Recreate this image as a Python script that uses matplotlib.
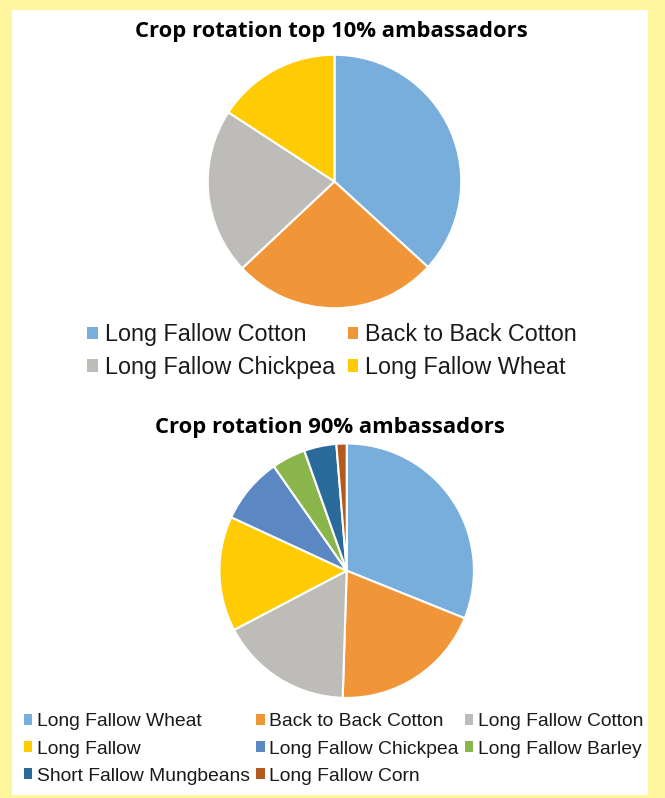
import matplotlib.pyplot as plt
from matplotlib.patches import Patch, Rectangle

# top 10% ambassadors
top_labels = ['Long Fallow Cotton', 'Back to Back Cotton', 'Long Fallow Chickpea', 'Long Fallow Wheat']
top_share = [36.8, 26.2, 21.2, 15.8]
top_colors = ['#78AEDB', '#F09538', '#BDBCB8', '#FFCB05']

# 90% ambassadors
rest_labels = ['Long Fallow Wheat', 'Back to Back Cotton', 'Long Fallow Cotton', 'Long Fallow',
               'Long Fallow Chickpea', 'Long Fallow Barley', 'Short Fallow Mungbeans', 'Long Fallow Corn']
rest_share = [31.1, 19.4, 16.8, 14.6, 8.4, 4.3, 4.1, 1.3]
rest_colors = ['#78AEDB', '#F09538', '#BDBCB8', '#FFCB05', '#5B88C2', '#8AB54B', '#2A6B9C', '#B55A1F']

fig = plt.figure(figsize=(6.65, 7.98), dpi=100, facecolor='#FFF59D')
fig.patches.append(Rectangle((12 / 665, 1 - 795 / 798), 636 / 665, 785 / 798,
                             transform=fig.transFigure, facecolor='white', edgecolor='none', zorder=-10))

title_font = dict(family='Open Sans', fontweight='bold', fontsize=15.8, ha='center', va='center')
fig.text(331 / 665, 1 - 32 / 798, 'Crop rotation top 10% ambassadors', **title_font)
fig.text(330 / 665, 1 - 428 / 798, 'Crop rotation 90% ambassadors', **title_font)


def draw_pie(rect, values, colors):
    ax = fig.add_axes(rect)
    ax.pie(values, colors=colors, startangle=90, counterclock=False,
           wedgeprops=dict(edgecolor='white', linewidth=1.5))
    ax.set_xlim(-1.01, 1.01)
    ax.set_ylim(-1.01, 1.01)
    ax.set_aspect('equal')
    ax.axis('off')
    return ax


draw_pie([(334.5 - 128) / 665, 1 - (181.5 + 128) / 798, 256 / 665, 256 / 798], top_share, top_colors)
draw_pie([(346.7 - 128.5) / 665, 1 - (570.7 + 128.5) / 798, 257 / 665, 257 / 798], rest_share, rest_colors)

# legends are filled column by column, so reorder to read across rows
h1 = [Patch(facecolor=c, label=l) for l, c in zip(top_labels, top_colors)]
order1 = [0, 2, 1, 3]
fig.legend([h1[i] for i in order1], [top_labels[i] for i in order1], ncol=2,
           loc='center', bbox_to_anchor=(332 / 665, 1 - 351 / 798), frameon=False,
           prop=dict(family='Liberation Sans', size=16.8), handlelength=0.45, handleheight=0.45,
           handletextpad=0.3, columnspacing=0.55, labelspacing=0.42, labelcolor='#1a1a1a')

h2 = [Patch(facecolor=c, label=l) for l, c in zip(rest_labels, rest_colors)]
order2 = [0, 3, 6, 1, 4, 7, 2, 5]
fig.legend([h2[i] for i in order2], [rest_labels[i] for i in order2], ncol=3,
           loc='center', bbox_to_anchor=(333.5 / 665, 1 - 749 / 798), frameon=False,
           prop=dict(family='Liberation Sans', size=13.9), handlelength=0.45, handleheight=0.45,
           handletextpad=0.25, columnspacing=0.3, labelspacing=0.52, labelcolor='#1a1a1a')

fig.savefig('out.png', dpi=100, facecolor=fig.get_facecolor())
